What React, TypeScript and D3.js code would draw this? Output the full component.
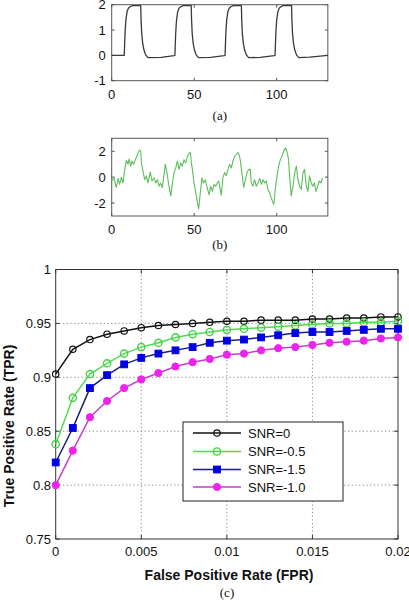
import React from "react";
import * as d3 from "d3";

// ---------- Data ----------
// (a) pulse signal [x, y]
const SIGNAL_A: [number, number][] = [
  [0, 0], [7.6, 0], [8.1, 0.9], [8.6, 1.4], [9.3, 1.72], [10.1, 1.86], [11.1, 1.92], [12.6, 1.96], [17.6, 1.96],
  [17.8, 1.4], [18.2, 0.86], [18.8, 0.46], [19.6, 0.2], [20.6, 0.02], [22, -0.09], [30, -0.08], [37.8, -0.01],
  [38.3, 0], [38.8, 0.9], [39.3, 1.4], [40, 1.72], [40.8, 1.86], [41.8, 1.92], [43.3, 1.96], [48.2, 1.96],
  [48.4, 1.4], [48.8, 0.86], [49.4, 0.46], [50.2, 0.2], [51.2, 0.02], [52.6, -0.09], [60, -0.08], [68.2, -0.01],
  [68.7, 0], [69.2, 0.9], [69.7, 1.4], [70.4, 1.72], [71.2, 1.86], [72.2, 1.92], [73.7, 1.96], [78.6, 1.96],
  [78.8, 1.4], [79.2, 0.86], [79.8, 0.46], [80.6, 0.2], [81.6, 0.02], [83, -0.09], [90, -0.08], [98.5, -0.01],
  [99, 0], [99.5, 0.9], [100, 1.4], [100.7, 1.72], [101.5, 1.86], [102.5, 1.92], [104, 1.96], [109, 1.96],
  [109.2, 1.4], [109.6, 0.86], [110.2, 0.46], [111, 0.2], [112, 0.02], [113.4, -0.09], [120, -0.07], [131, 0],
];

// (b) noisy signal [x, y]
const SIGNAL_B: [number, number][] = [
  [0, -0.3], [1.4, -0.05], [2.8, -0.8], [3.8, -0.1], [4.8, -0.55], [5.9, 0], [6.9, -0.45], [7.9, 0.6], [8.9, 1.3],
  [9.9, 1.0], [10.5, 1.4], [11.5, 0.85], [12.3, 1.25], [13.3, 1.0], [14.3, 1.35], [15.2, 1.6], [16, 1.9], [17, 2.1],
  [17.6, 2.0], [18, 1.1], [19, 0.45], [20, -0.2], [21, 0.1], [22, -0.45], [23.4, 0.4], [24.4, -0.3], [25.7, -0.05],
  [26.7, -0.45], [27.7, -0.2], [28.7, -0.7], [29.7, -0.45], [30.7, -0.8], [31.7, 0.2], [32.5, 1.0], [33.5, 0.35],
  [34.7, -0.7], [35.8, -1.45], [36.8, -0.45], [37.8, 0.35], [38.8, 0.7], [39.8, 1.25], [40.8, 0.6], [41.8, 1.1],
  [42.8, 0.85], [43.8, 1.35], [44.8, 1.1], [45.9, 1.6], [46.9, 1.85], [47.7, 1.9], [48.3, 1.1], [48.9, 0.6],
  [49.9, -0.45], [50.9, -1.2], [51.9, -1.95], [52.7, -2.45], [53.7, -1.2], [54.7, -0.05], [55.7, -0.45], [56.8, -0.2],
  [57.8, -0.8], [59, -1.35], [60, -0.7], [61, -1.1], [62, -0.55], [63, -0.7], [64, -0.45], [64.8, -0.3], [65.4, -0.7],
  [66.4, -1.4], [67.4, -0.05], [68.4, 0.35], [69.4, 0.1], [70.5, 0.6], [71.5, 1.0], [72.5, 0.7], [73.5, 1.25],
  [74.5, 1.6], [75.5, 1.75], [76.5, 1.9], [77.1, 1.75], [77.9, 1.35], [78.9, 0.35], [80, -0.8], [81, -0.2], [82, 0.35],
  [83, 0.6], [84, 0.6], [84.6, -0.45], [85.6, -0.7], [86.6, -0.2], [87.6, -0.7], [88.6, -0.45], [89.7, -0.1],
  [90.7, -0.55], [91.7, -0.2], [92.7, -0.45], [93.7, -0.3], [94.7, -0.95], [95.7, -1.2], [96.7, -1.6], [97.7, -1.95],
  [98.3, -2.1], [99.1, -0.95], [100.2, 0.1], [101.2, 0.85], [102.2, 1.35], [103.2, 1.6], [104.2, 2.0], [105.2, 2.25],
  [106.2, 2.0], [107.2, 1.35], [107.8, 0.1], [108.8, -1.45], [109.9, -0.7], [110.9, 0.35], [111.9, 0.85],
  [112.9, -0.2], [113.9, -0.7], [114.9, -0.95], [115.9, 0.35], [116.9, 0.6], [117.9, -0.7], [118.9, -1.1],
  [119.9, 0.1], [120.9, -0.45], [121.9, -0.7], [122.8, -0.45], [123.8, -1.1], [124.8, -0.7], [125.8, -0.3],
  [126.8, -0.45], [127.8, -0.05],
];

const AB_X_TICKS = [0, 50, 100];
const A_Y_TICKS = [-1, 0, 1, 2];
const B_Y_TICKS = [-2, 0, 2];

// (c) ROC curves
const FPR = [0, 0.001, 0.002, 0.003, 0.004, 0.005, 0.006, 0.007, 0.008, 0.009, 0.01,
  0.011, 0.012, 0.013, 0.014, 0.015, 0.016, 0.017, 0.018, 0.019, 0.02];
const TPR_SNR0 = [0.903, 0.926, 0.935, 0.94, 0.943, 0.946, 0.948, 0.949, 0.95, 0.951, 0.952,
  0.952, 0.953, 0.953, 0.953, 0.954, 0.954, 0.955, 0.955, 0.956, 0.956];
const TPR_SNRm05 = [0.838, 0.881, 0.903, 0.913, 0.922, 0.928, 0.932, 0.937, 0.94, 0.942, 0.944,
  0.945, 0.946, 0.947, 0.948, 0.949, 0.95, 0.95, 0.951, 0.951, 0.952];
const TPR_SNRm15 = [0.821, 0.853, 0.89, 0.902, 0.912, 0.918, 0.922, 0.925, 0.928, 0.932, 0.934,
  0.935, 0.937, 0.939, 0.941, 0.942, 0.942, 0.943, 0.944, 0.945, 0.945];
const TPR_SNRm10 = [0.8, 0.832, 0.863, 0.878, 0.89, 0.898, 0.904, 0.91, 0.914, 0.917, 0.921,
  0.922, 0.925, 0.927, 0.928, 0.93, 0.932, 0.933, 0.934, 0.936, 0.937];
const SERIES_NAMES = ["SNR=0", "SNR=-0.5", "SNR=-1.5", "SNR=-1.0"];
const C_X_TICKS = [0, 0.005, 0.01, 0.015, 0.02];
const C_X_LABELS = ["0", "0.005", "0.01", "0.015", "0.02"];
const C_Y_TICKS = [0.75, 0.8, 0.85, 0.9, 0.95, 1];
const C_Y_LABELS = ["0.75", "0.8", "0.85", "0.9", "0.95", "1"];

const FONT = "Arial, 'Liberation Sans', Helvetica, sans-serif";
const SERIF = "'Times New Roman', 'Liberation Serif', serif";

type Style = { line: string; marker: "circle" | "square"; stroke: string; fill: string; r: number; sw: number };
const STYLES: Style[] = [
  { line: "#111", marker: "circle", stroke: "#111", fill: "none", r: 3.2, sw: 1.2 },
  { line: "#4fdc4f", marker: "circle", stroke: "#45d045", fill: "none", r: 3.6, sw: 1.4 },
  { line: "#1b1f80", marker: "square", stroke: "#0000e6", fill: "#0000e6", r: 3.4, sw: 1 },
  { line: "#c83ec8", marker: "circle", stroke: "#ee22ee", fill: "#ee22ee", r: 3.6, sw: 1 },
];

function Marker({ s, x, y }: { s: Style; x: number; y: number }) {
  if (s.marker === "square")
    return <rect x={x - s.r} y={y - s.r} width={s.r * 2} height={s.r * 2} fill={s.fill} stroke={s.stroke} strokeWidth={s.sw} />;
  return <circle cx={x} cy={y} r={s.r} fill={s.fill} stroke={s.stroke} strokeWidth={s.sw} />;
}

function SmallPanel({ data, yDomain, yRange, yTicks, color, width, label, labelY }: any) {
  const x = d3.scaleLinear().domain([0, 131]).range([111.7, 327.85]);
  const y = d3.scaleLinear().domain(yDomain).range(yRange);
  const line = d3.line<[number, number]>().x((d) => x(d[0])).y((d) => y(d[1]));
  const [y0, y1] = [yRange[0], yRange[1]];
  const tl = 3;
  return (
    <g>
      <rect x={x(0)} y={y1} width={x(131) - x(0)} height={y0 - y1} fill="white" stroke="#555" strokeWidth={1} />
      {AB_X_TICKS.map((t) => (
        <g key={"xt" + t}>
          <line x1={x(t)} x2={x(t)} y1={y0} y2={y0 - tl} stroke="#555" />
          <line x1={x(t)} x2={x(t)} y1={y1} y2={y1 + tl} stroke="#555" />
          <text x={x(t)} y={y0 + 18} textAnchor="middle" fontSize={13} fontFamily={FONT} fill="#111">{t}</text>
        </g>
      ))}
      {yTicks.map((t: number) => (
        <g key={"yt" + t}>
          <line x1={x(0)} x2={x(0) + tl} y1={y(t)} y2={y(t)} stroke="#555" />
          <line x1={x(131)} x2={x(131) - tl} y1={y(t)} y2={y(t)} stroke="#555" />
          <text x={x(0) - 6} y={y(t) + 4.6} textAnchor="end" fontSize={13} fontFamily={FONT} fill="#111">{t}</text>
        </g>
      ))}
      <path d={line(data) || ""} fill="none" stroke={color} strokeWidth={width} strokeLinejoin="round" />
      <text x={(x(0) + x(131)) / 2} y={labelY} textAnchor="middle" fontSize={13} fontFamily={SERIF} fill="#111">{label}</text>
    </g>
  );
}

export default function App() {
  const x = d3.scaleLinear().domain([0, 0.02]).range([55.7, 398]);
  const y = d3.scaleLinear().domain([0.75, 1]).range([539, 269.5]);
  const series = [TPR_SNR0, TPR_SNRm05, TPR_SNRm15, TPR_SNRm10];
  const line = d3.line<number>().x((_, i) => x(FPR[i])).y((d) => y(d));
  const tl = 4;
  const legendY = [433, 451.5, 469.5, 487];
  return (
    <svg width={409} height={600} style={{ position: "absolute", left: 0, top: 0, background: "white" }}>
      <rect x={0} y={0} width={409} height={600} fill="white" />
      <SmallPanel data={SIGNAL_A} yDomain={[-1, 2]} yRange={[80.7, 4.7]} yTicks={A_Y_TICKS} color="#3a3a3a" width={1.3} label="(a)" labelY={119.5} />
      <SmallPanel data={SIGNAL_B} yDomain={[-3, 3]} yRange={[216, 138.3]} yTicks={B_Y_TICKS} color="#5cbf5c" width={1.1} label="(b)" labelY={249} />

      {/* panel c */}
      <rect x={x(0)} y={y(1)} width={x(0.02) - x(0)} height={y(0.75) - y(1)} fill="white" />
      {C_X_TICKS.slice(1, -1).map((t) => (
        <line key={"gx" + t} x1={x(t)} x2={x(t)} y1={y(0.75)} y2={y(1)} stroke="#888" strokeDasharray="1.2,2.5" />
      ))}
      {C_Y_TICKS.slice(1, -1).map((t) => (
        <line key={"gy" + t} x1={x(0)} x2={x(0.02)} y1={y(t)} y2={y(t)} stroke="#888" strokeDasharray="1.2,2.5" />
      ))}
      <rect x={x(0)} y={y(1)} width={x(0.02) - x(0)} height={y(0.75) - y(1)} fill="none" stroke="#333" strokeWidth={1} />
      {C_X_TICKS.map((t, i) => (
        <g key={"cx" + t}>
          <line x1={x(t)} x2={x(t)} y1={y(0.75)} y2={y(0.75) - tl} stroke="#333" />
          <line x1={x(t)} x2={x(t)} y1={y(1)} y2={y(1) + tl} stroke="#333" />
          <text x={x(t)} y={556} textAnchor="middle" fontSize={13} fontFamily={FONT} fill="#111">{C_X_LABELS[i]}</text>
        </g>
      ))}
      {C_Y_TICKS.map((t, i) => (
        <g key={"cy" + t}>
          <line x1={x(0)} x2={x(0) + tl} y1={y(t)} y2={y(t)} stroke="#333" />
          <line x1={x(0.02)} x2={x(0.02) - tl} y1={y(t)} y2={y(t)} stroke="#333" />
          <text x={51} y={y(t) + 4.6} textAnchor="end" fontSize={13} fontFamily={FONT} fill="#111">{C_Y_LABELS[i]}</text>
        </g>
      ))}
      {series.map((s, k) => (
        <g key={"s" + k}>
          <path d={line(s) || ""} fill="none" stroke={STYLES[k].line} strokeWidth={1.5} />
          {s.map((v, i) => (
            <Marker key={i} s={STYLES[k]} x={x(FPR[i])} y={y(v)} />
          ))}
        </g>
      ))}
      {/* legend */}
      <rect x={183} y={422} width={160} height={79} fill="white" stroke="#222" strokeWidth={1} />
      {SERIES_NAMES.map((n, k) => (
        <g key={"lg" + k}>
          <line x1={193} x2={241} y1={legendY[k]} y2={legendY[k]} stroke={STYLES[k].line} strokeWidth={1.5} />
          <Marker s={STYLES[k]} x={217} y={legendY[k]} />
          <text x={248} y={legendY[k] + 4.7} fontSize={13} fontFamily={FONT} fill="#111">{n}</text>
        </g>
      ))}
      <text x={229} y={580} textAnchor="middle" fontSize={14} fontWeight="bold" fontFamily={FONT} fill="#111">False Positive Rate (FPR)</text>
      <text transform="translate(13.5,426) rotate(-90)" textAnchor="middle" fontSize={14} fontWeight="bold" fontFamily={FONT} fill="#111">True Positive Rate (TPR)</text>
      <text x={227} y={597} textAnchor="middle" fontSize={13} fontFamily={SERIF} fill="#111">(c)</text>
    </svg>
  );
}
